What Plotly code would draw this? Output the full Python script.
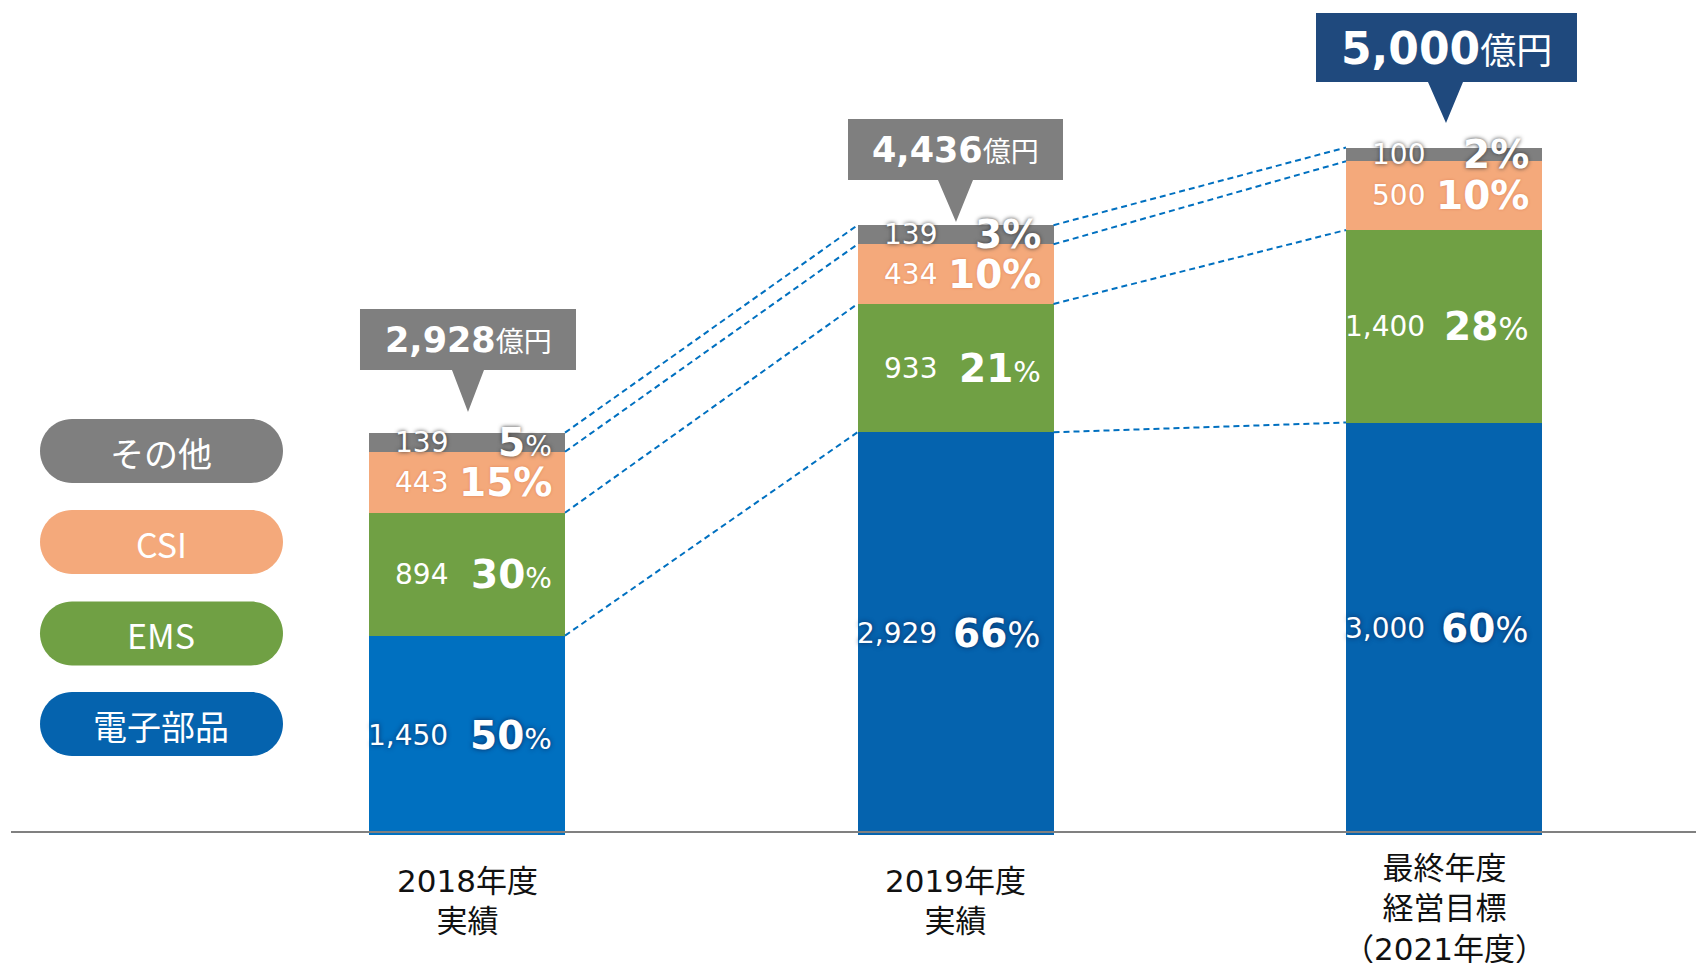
import plotly.graph_objects as go

# ---------------- data ----------------
categories = ["2018年度<br>実績", "2019年度<br>実績", "最終年度<br>経営目標<br>（2021年度）"]
series_names = ["電子部品", "EMS", "CSI", "その他"]          # bottom -> top
electronic = [1450, 2929, 3000]
ems = [894, 933, 1400]
csi = [443, 434, 500]
other = [139, 139, 100]
share_electronic = [50, 66, 60]
share_ems = [30, 21, 28]
share_csi = [15, 10, 10]
share_other = [5, 3, 2]
totals = [2928, 4436, 5000]
unit = "億円"

values = [electronic, ems, csi, other]
shares = [share_electronic, share_ems, share_csi, share_other]

# ---------------- styles ----------------
W, H = 1704, 963
OFF = 8.0                      # page body margin compensation
PX_PER_X = 488.5
X0PX = 467.0 - OFF
Y0PX = 835.0 - OFF
PX_PER_V = 0.1375
xmin = -X0PX / PX_PER_X
xmax = (W - X0PX) / PX_PER_X
ymax = Y0PX / PX_PER_V
ymin = -(H - Y0PX) / PX_PER_V
BAR_W = 196 / PX_PER_X
HW = BAR_W / 2

seg_colors = [
    ["#0070C0", "#0563AE", "#0563AE"],
    ["#70A044"] * 3,
    ["#F4A97B"] * 3,
    ["#7F7F7F"] * 3,
]
pill_colors = {"その他": "#7F7F7F", "CSI": "#F4A97B", "EMS": "#70A044", "電子部品": "#0563AE"}
shadows = ["0px 0px 5px #0B2A5E", "none", "0px 0px 3px #E0865A", "0px 0px 4px #3A3A3A"]
pct_bold_sign = [[False, False, False], [False, False, False], [True, True, True], [False, True, True]]
pct_sign_size = [[29, 35, 35], [28, 29, 32], [39, 39, 39], [28, 39, 39]]
FONT = "DejaVu Sans, Noto Sans CJK JP, sans-serif"
CJK = "Noto Sans CJK JP, sans-serif"

def px2paper(px, py):
    return (px - OFF) / W, 1 - (py - OFF) / H

fig = go.Figure()

for s, name in enumerate(series_names):
    fig.add_trace(go.Bar(
        x=[0, 1, 2], y=values[s], name=name, width=BAR_W,
        marker=dict(color=seg_colors[s], line=dict(width=0)),
        hoverinfo="skip", showlegend=False,
    ))

# cumulative boundaries
cums = []
run = [0, 0, 0]
for s in range(len(series_names)):
    run = [run[i] + values[s][i] for i in range(3)]
    cums.append(list(run))

for i in range(2):
    for lvl in cums:
        fig.add_trace(go.Scatter(
            x=[i + HW, i + 1 - HW], y=[lvl[i], lvl[i + 1]], mode="lines",
            line=dict(color="#0070C0", width=2, dash="6px,4px"),
            hoverinfo="skip", showlegend=False,
        ))

annotations = []
shapes = []

# segment labels
for s in range(len(series_names)):
    base = [0, 0, 0] if s == 0 else cums[s - 1]
    for i in range(3):
        mid = base[i] + values[s][i] / 2
        f = dict(family=FONT, size=28, color="white")
        if shadows[s] != "none":
            f["shadow"] = shadows[s]
        annotations.append(dict(
            x=i, y=mid, xref="x", yref="y", xanchor="right", yanchor="middle",
            xshift=-17, text=f"{values[s][i]:,}", showarrow=False, font=f,
        ))
        if pct_bold_sign[s][i]:
            t = f"<b>{shares[s][i]}%</b>"
        else:
            t = f"<b>{shares[s][i]}</b><span style='font-size:{pct_sign_size[s][i]}px'>%</span>"
        f2 = dict(f)
        f2["size"] = 39
        annotations.append(dict(
            x=i, y=mid, xref="x", yref="y", xanchor="right", yanchor="middle",
            xshift=98 - 11, text=t, showarrow=False, font=f2,
        ))

# callouts
callouts = [
    dict(l=360, r=576, t=309, b=370, bl=452, br=484, tx=468, ty=412, color="#7F7F7F", big=35, small=28),
    dict(l=848, r=1063, t=119, b=180, bl=938, br=973, tx=956, ty=222, color="#7F7F7F", big=35, small=28),
    dict(l=1316, r=1577, t=13, b=82, bl=1428, br=1463, tx=1446, ty=123, color="#1F497D", big=44, small=36),
]
for i, c in enumerate(callouts):
    pts = [(c["l"], c["t"]), (c["r"], c["t"]), (c["r"], c["b"]), (c["br"], c["b"]),
           (c["tx"], c["ty"]), (c["bl"], c["b"]), (c["l"], c["b"])]
    pp = [px2paper(*p) for p in pts]
    path = "M " + " L ".join(f"{x:.5f},{y:.5f}" for x, y in pp) + " Z"
    shapes.append(dict(type="path", path=path, xref="paper", yref="paper",
                       fillcolor=c["color"], line=dict(width=0), layer="above"))
    cx = (c["l"] + c["r"]) / 2
    cy = (c["t"] + c["b"]) / 2 + 1
    xp, yp = px2paper(cx, cy)
    annotations.append(dict(
        x=xp, y=yp, xref="paper", yref="paper", xanchor="center", yanchor="middle",
        text=f"<b>{totals[i]:,}</b><span style='font-size:{c['small']}px;font-family:{CJK}'>{unit}</span>",
        showarrow=False, font=dict(family=FONT, size=c["big"], color="white"),
    ))

# baseline
bx0, by = px2paper(11, 832)
shapes.append(dict(type="line", xref="paper", yref="paper", x0=bx0, x1=1, y0=by, y1=by,
                   line=dict(color="#808080", width=2), layer="above"))

# category labels
for i, cat in enumerate(categories):
    nlines = cat.count("<br>") + 1
    cy = 901 if nlines == 2 else 908
    annotations.append(dict(
        x=i, y=px2paper(0, cy)[1], xref="x", yref="paper", xanchor="center", yanchor="middle",
        text=cat, showarrow=False, font=dict(family=FONT, size=31, color="#111111"),
    ))

# legend pills
def pill_path(x0, x1, yc, r):
    k = 0.5523 * r
    top, bot = yc - r, yc + r
    segs = [
        ("M", [(x0 + r, top)]),
        ("L", [(x1 - r, top)]),
        ("C", [(x1 - r + k, top), (x1, yc - k), (x1, yc)]),
        ("C", [(x1, yc + k), (x1 - r + k, bot), (x1 - r, bot)]),
        ("L", [(x0 + r, bot)]),
        ("C", [(x0 + r - k, bot), (x0, yc + k), (x0, yc)]),
        ("C", [(x0, yc - k), (x0 + r - k, top), (x0 + r, top)]),
    ]
    out = []
    for cmd, pts in segs:
        out.append(cmd + " " + " ".join("{:.5f},{:.5f}".format(*px2paper(*p)) for p in pts))
    return " ".join(out) + " Z"

legend_order = list(reversed(series_names))
pill_y = [451, 542, 633.5, 724]
for name, yc in zip(legend_order, pill_y):
    shapes.append(dict(type="path", path=pill_path(40, 283, yc, 32), xref="paper", yref="paper",
                       fillcolor=pill_colors[name], line=dict(width=0), layer="above"))
    xp, yp = px2paper(161, yc + 1)
    annotations.append(dict(
        x=xp, y=yp, xref="paper", yref="paper", xanchor="center", yanchor="middle",
        text=name, showarrow=False, font=dict(family=CJK, size=34, color="white"),
    ))

fig.update_layout(
    width=W, height=H, margin=dict(l=0, r=0, t=0, b=0),
    paper_bgcolor="white", plot_bgcolor="white",
    barmode="stack", bargap=0,
    xaxis=dict(range=[xmin, xmax], visible=False, fixedrange=True),
    yaxis=dict(range=[ymin, ymax], visible=False, fixedrange=True),
    shapes=shapes, annotations=annotations, showlegend=False,
)

fig.write_html("out.html", config={"displayModeBar": False})
